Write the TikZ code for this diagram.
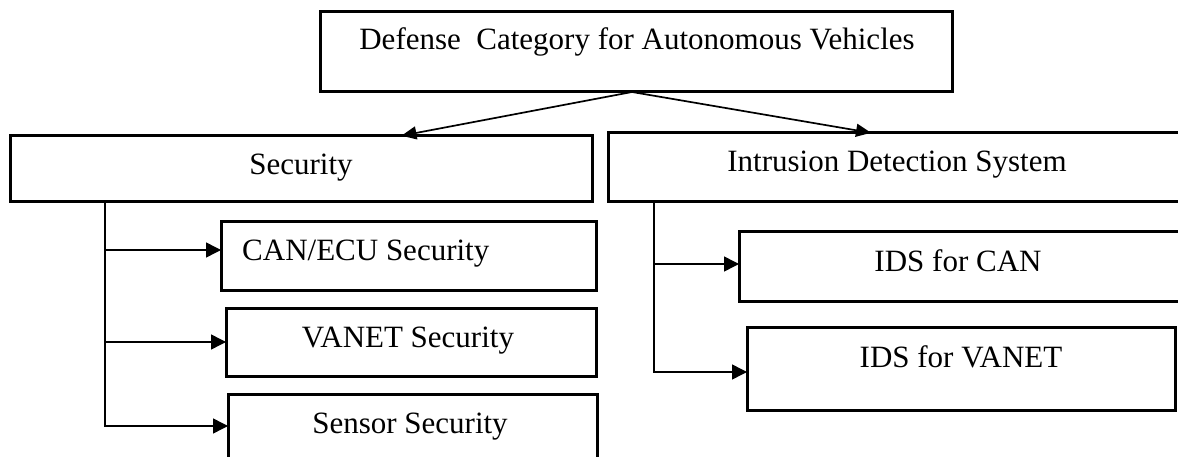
\documentclass[tikz,border=0pt]{standalone}
\usepackage{fontspec}
\setmainfont{Liberation Serif}
\usetikzlibrary{arrows.meta}
\begin{document}
\begin{tikzpicture}[x=1pt,y=-1pt,
  box/.style={draw, line width=3pt, anchor=north west, inner sep=0pt, outer sep=0pt},
  lbl/.style={anchor=base, inner sep=0pt, font=\fontsize{31}{36}\selectfont},
  conn/.style={line width=1.5pt, -{Triangle[length=15pt,width=15pt]}},
  diag/.style={line width=1.7pt, -{Triangle[length=15pt,width=13pt]}}
]
\useasboundingbox (0,0) rectangle (1178,457);
% boxes
\node[box, minimum width=632pt, minimum height=80pt] (top) at (320,12) {};
\node[box, minimum width=582pt, minimum height=66pt] (sec) at (10,136) {};
\node[box, minimum width=574pt, minimum height=69pt] (ids) at (608,133) {};
\node[box, minimum width=375pt, minimum height=68pt] (can) at (221,222) {};
\node[box, minimum width=370pt, minimum height=68pt] (vanet) at (226,308) {};
\node[box, minimum width=369pt, minimum height=76pt] (sensor) at (228,394) {};
\node[box, minimum width=443pt, minimum height=69pt] (idscan) at (739,232) {};
\node[box, minimum width=428pt, minimum height=83pt] (idsvanet) at (747,327) {};
% labels
\node[lbl] (topt) at (637,50) {Defense\ \ Category for Autonomous Vehicles};
\node[lbl] (sect) at (301,175) {Security};
\node[lbl] (idst) at (897,172) {Intrusion Detection System};
\node[lbl, anchor=base west] (cant) at (242,260) {CAN/ECU Security};
\node[lbl] (vant) at (408,347) {VANET Security};
\node[lbl] (sent) at (410,433) {Sensor Security};
\node[lbl] (idscant) at (958,272) {IDS for CAN};
\node[lbl] (idsvant) at (961,367) {IDS for VANET};
% connectors
\draw[diag, shorten >=1.5pt] ([xshift=-4pt]top.south) -- ([xshift=99pt]sec.north);
\draw[diag, shorten >=1pt] ([xshift=-4pt]top.south) -- ([xshift=-23pt]ids.north);
\draw[conn] ([xshift=95pt]sec.south west) |- ([yshift=6pt]can.west);
\draw[conn] ([xshift=95pt]sec.south west) |- (vanet.west);
\draw[conn] ([xshift=95pt]sec.south west) |- ([yshift=6pt]sensor.west);
\draw[conn] ([xshift=46pt]ids.south west) |- ([yshift=2.5pt]idscan.west);
\draw[conn] ([xshift=46pt]ids.south west) |- ([yshift=-3.5pt]idsvanet.west);
\end{tikzpicture}
\end{document}
